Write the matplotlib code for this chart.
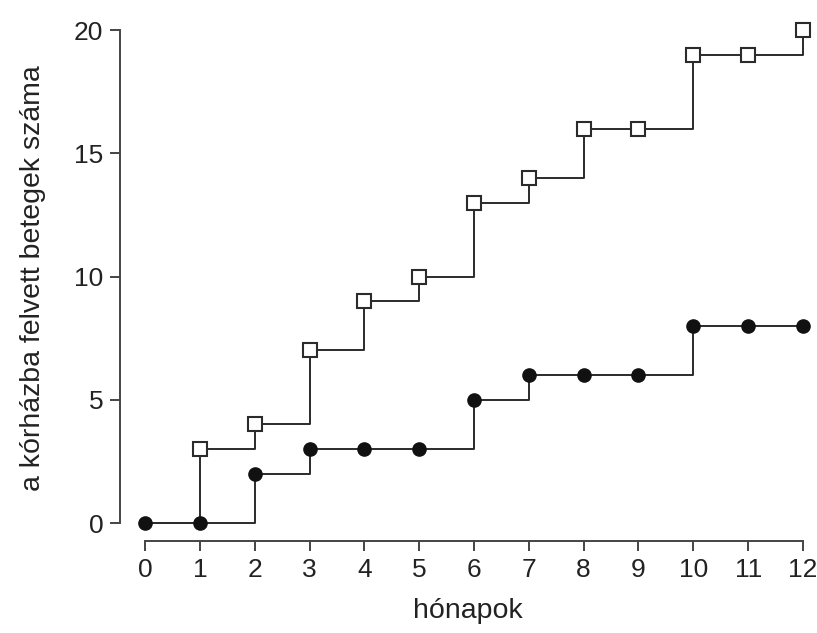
import matplotlib.pyplot as plt

plt.rcParams['font.family'] = ['Liberation Sans', 'DejaVu Sans']

honapok = [0, 1, 2, 3, 4, 5, 6, 7, 8, 9, 10, 11, 12]
negyzet = [0, 3, 4, 7, 9, 10, 13, 14, 16, 16, 19, 19, 20]
kor = [0, 0, 2, 3, 3, 3, 5, 6, 6, 6, 8, 8, 8]

fig = plt.figure(figsize=(8.17, 6.33), dpi=100)
ax = fig.add_axes([0.1469, 0.1453, 0.8507, 0.831])

c = '#2b2b2b'
ax.step(honapok, negyzet, where='post', color=c, lw=1.4, zorder=2)
ax.plot(honapok[1:], negyzet[1:], 's', ms=9.5, mfc='white', mec=c, mew=1.5, zorder=3)
ax.step(honapok, kor, where='post', color=c, lw=1.4, zorder=2)
ax.plot(honapok, kor, 'o', ms=9.5, color='#111111', zorder=3)

ax.set_xlim(-0.456, 12.22)
ax.set_ylim(-0.73, 20.61)
ax.set_xticks(honapok)
ax.set_yticks([0, 5, 10, 15, 20])
ax.spines['top'].set_visible(False)
ax.spines['right'].set_visible(False)
ax.spines['bottom'].set_bounds(0, 12)
ax.spines['left'].set_bounds(0, 20)
for s in ['bottom', 'left']:
    ax.spines[s].set_color('#444444')
    ax.spines[s].set_linewidth(1.4)
ax.tick_params(length=7, width=1.4, color='#444444', labelsize=19, labelcolor='#222222', pad=5)

ax.set_xlabel('hónapok', fontsize=20.5, color='#222222', labelpad=12)
ax.set_ylabel('a kórházba felvett betegek száma', fontsize=20.5, color='#222222', labelpad=20)

fig.savefig('out.png', dpi=100)
